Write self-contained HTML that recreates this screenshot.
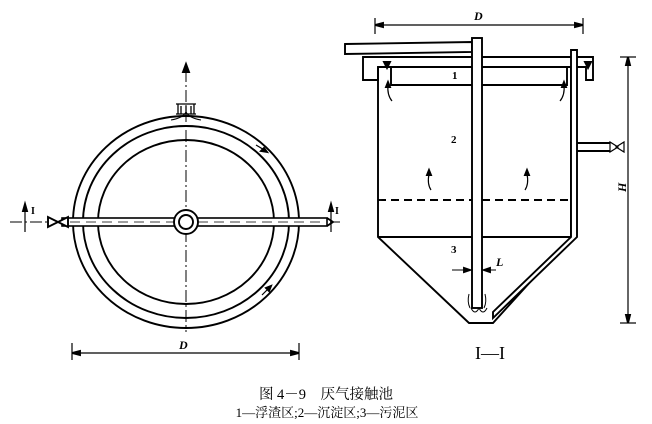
<!DOCTYPE html>
<html><head><meta charset="utf-8"><style>
html,body{margin:0;padding:0;background:#fff;width:652px;height:424px;overflow:hidden}
</style></head><body>
<svg width="652" height="424" viewBox="0 0 652 424" xmlns="http://www.w3.org/2000/svg" font-family="Liberation Serif, Noto Serif CJK SC, serif">
<g fill="none" stroke="#000" stroke-width="1.9">
<!-- left plan -->
<ellipse cx="186" cy="222" rx="113" ry="106"/>
<ellipse cx="186" cy="222" rx="103" ry="96"/>
<ellipse cx="186" cy="222" rx="88" ry="82"/>
<line x1="186" y1="70" x2="186" y2="332" stroke-width="1" stroke-dasharray="12,3,2,3"/>
<line x1="10" y1="222" x2="340" y2="222" stroke-width="1" stroke-dasharray="12,3,2,3"/>
<path d="M186 64 l-3 8 h6z" fill="#000"/>
<rect x="62" y="218" width="265" height="8" fill="#fff" stroke-width="1.6"/>
<line x1="70" y1="222" x2="320" y2="222" stroke-width="0.8" stroke-dasharray="10,6"/>
<path d="M327 218 l6 4 l-6 4"/>
<path d="M48 217 v10 l10 -5z M68 217 v10 l-10 -5z" fill="#fff"/>
<circle cx="186" cy="222" r="12" fill="#fff"/>
<circle cx="186" cy="222" r="7"/>
<path d="M176 104 h20 M178 104 v10 M194 104 v10 M181 106 v8 M186 106 v8 M191 106 v8 M176 114 h20" stroke-width="1.3"/>
<path d="M171 120 q12 -2 15 -8 q3 6 15 8" stroke-width="1"/>
<path d="M256 145 l10 6" stroke-width="1.2"/><path d="M267 152 l-6 -1 l3 -3z" fill="#000"/>
<path d="M262 295 l8 -8" stroke-width="1.2"/><path d="M271 286 l-2 5 l-3 -3z" fill="#000"/>
<path d="M25 212 v20" stroke-width="1.2"/><path d="M25 204 l-2 7 h4z" fill="#000"/>
<path d="M331 212 v20" stroke-width="1.2"/><path d="M331 204 l-2 7 h4z" fill="#000"/>
<line x1="72" y1="353" x2="299" y2="353" stroke-width="1.2"/>
<line x1="72" y1="343" x2="72" y2="360" stroke-width="1.2"/><line x1="299" y1="343" x2="299" y2="360" stroke-width="1.2"/>
<path d="M72 353 l8 -2 v4z M299 353 l-8 -2 v4z" fill="#000"/>
<!-- right section -->
<line x1="375" y1="25" x2="583" y2="25" stroke-width="1.2"/>
<line x1="375" y1="18" x2="375" y2="34" stroke-width="1.2"/><line x1="583" y1="18" x2="583" y2="34" stroke-width="1.2"/>
<path d="M375 25 l8 -2 v4z M583 25 l-8 -2 v4z" fill="#000"/>
<line x1="628" y1="57" x2="628" y2="323" stroke-width="1.2"/>
<line x1="620" y1="57" x2="636" y2="57" stroke-width="1.2"/><line x1="620" y1="323" x2="636" y2="323" stroke-width="1.2"/>
<path d="M628 57 l-2 8 h4z M628 323 l-2 -8 h4z" fill="#000"/>
<path d="M363 57 H593 V80 H586 V67 H378 V80 H363 Z"/>
<path d="M378 67 V237 L469 323 H493 L571 237 V67"/>
<path d="M391 67 V85 H567 V67"/>
<line x1="378" y1="237" x2="571" y2="237"/>
<line x1="378" y1="200" x2="571" y2="200" stroke-dasharray="8,5"/>
<path d="M345 44 L472 42 V52 L345 54 Z" fill="#fff"/>
<rect x="472" y="38" width="10" height="270" fill="#fff"/>
<path d="M571 50 H577 V237 L493 318 V312 L571 237 Z" fill="#fff"/>
<path d="M577 143 H610 M577 151 H610" />
<path d="M610 142 v10 l8 -5z M624 142 v10 l-8 -5z" fill="#fff" stroke-width="1.2"/>
<path d="M384 62 l3 6 l3 -6z M585 62 l3 6 l3 -6z" fill="#000"/>
<path d="M392 101 q-5 -6 -4 -16" stroke-width="1.2"/><path d="M388 82 l-2 5 h4z" fill="#000"/>
<path d="M560 101 q5 -6 4 -16" stroke-width="1.2"/><path d="M564 82 l-2 5 h4z" fill="#000"/>
<path d="M431 190 q-4 -6 -2 -16" stroke-width="1.2"/><path d="M429 170 l-2 5 h4z" fill="#000"/>
<path d="M525 190 q4 -6 2 -16" stroke-width="1.2"/><path d="M527 170 l-2 5 h4z" fill="#000"/>
<path d="M470 308 q-3 -6 -1 -14 M484 308 q3 -6 1 -14 M471 308 q4 8 8 0 q4 8 8 0" stroke-width="1"/>
<path d="M452 270 H470 M484 270 H496" stroke-width="1"/>
<path d="M470 270 l-6 -2 v4z M484 270 l6 -2 v4z" fill="#000"/>
</g>
<g font-size="12" fill="#000" font-weight="bold">
<text x="179" y="349" font-style="italic">D</text>
<text x="31" y="214" font-size="10">I</text>
<text x="335" y="214" font-size="10">I</text>
<text x="474" y="20" font-style="italic">D</text>
<text x="452" y="79" font-size="11">1</text>
<text x="451" y="143" font-size="11">2</text>
<text x="451" y="253" font-size="11">3</text>
<text x="496" y="266" font-style="italic">L</text>
<text x="622" y="196" font-style="italic" transform="rotate(-90 622 192)">H</text>
</g>
<g fill="#000">
<text x="490" y="359" font-size="18" text-anchor="middle">I—I</text>
<text x="326" y="399" font-size="14.5" text-anchor="middle">图 4－9　厌气接触池</text>
<text x="327" y="417" font-size="13" text-anchor="middle">1—浮渣区;2—沉淀区;3—污泥区</text>
</g>
</svg>
</body></html>
